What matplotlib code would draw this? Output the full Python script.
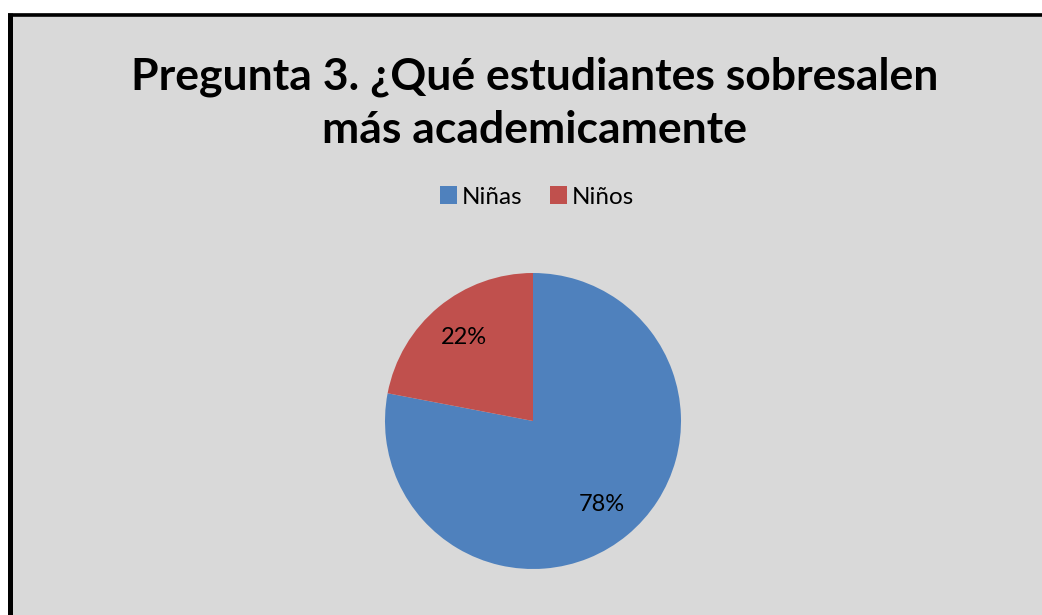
import matplotlib.pyplot as plt
from matplotlib.patches import Rectangle, Patch
from matplotlib.lines import Line2D

# datos
categorias = ["Niñas", "Niños"]
valores = [78, 22]
colores = ["#4f81bd", "#c0504d"]
titulo = "Pregunta 3. ¿Qué estudiantes sobresalen\nmás academicamente"

W, H = 1042, 615
fig = plt.figure(figsize=(W / 100, H / 100), dpi=100)
fig.patch.set_facecolor("white")

# fondo gris y borde
x0 = 8 / W
y1 = (H - 13) / H
fig.add_artist(Rectangle((x0, 0), 1 - x0, y1, transform=fig.transFigure,
                         facecolor="#d9d9d9", edgecolor="none", zorder=0))
fig.add_artist(Line2D([x0 + 2.5 / W, x0 + 2.5 / W], [0, y1], transform=fig.transFigure,
                      color="black", lw=3.6, solid_capstyle="butt"))
fig.add_artist(Line2D([x0, 1], [y1 - 1.7 / H, y1 - 1.7 / H], transform=fig.transFigure,
                      color="black", lw=2.6, solid_capstyle="butt"))

fig.text(535 / W, 1 - 103 / H, titulo, ha="center", va="center",
         fontsize=32, fontweight="bold", family="Lato", linespacing=1.4)

# pie
cx, cy, r = 533, 421, 148
ax = fig.add_axes([(cx - r) / W, (H - cy - r) / H, 2 * r / W, 2 * r / H])
ax.pie(valores, colors=colores, startangle=90, counterclock=False,
       autopct="%.0f%%", pctdistance=0.73, radius=1,
       textprops={"fontsize": 17, "family": "Lato", "color": "black"})
ax.set_xlim(-1, 1)
ax.set_ylim(-1, 1)
ax.set_aspect("equal")
ax.axis("off")

handles = [Patch(facecolor=c, edgecolor="none") for c in colores]
fig.legend(handles, categorias, loc="center", bbox_to_anchor=(537 / W, 1 - 197 / H),
           ncol=2, frameon=False, prop={"family": "Lato", "size": 17.5},
           handlelength=0.7, handleheight=0.7, handletextpad=0.2, columnspacing=1.1)

fig.savefig("out.png", dpi=100, facecolor=fig.get_facecolor())
